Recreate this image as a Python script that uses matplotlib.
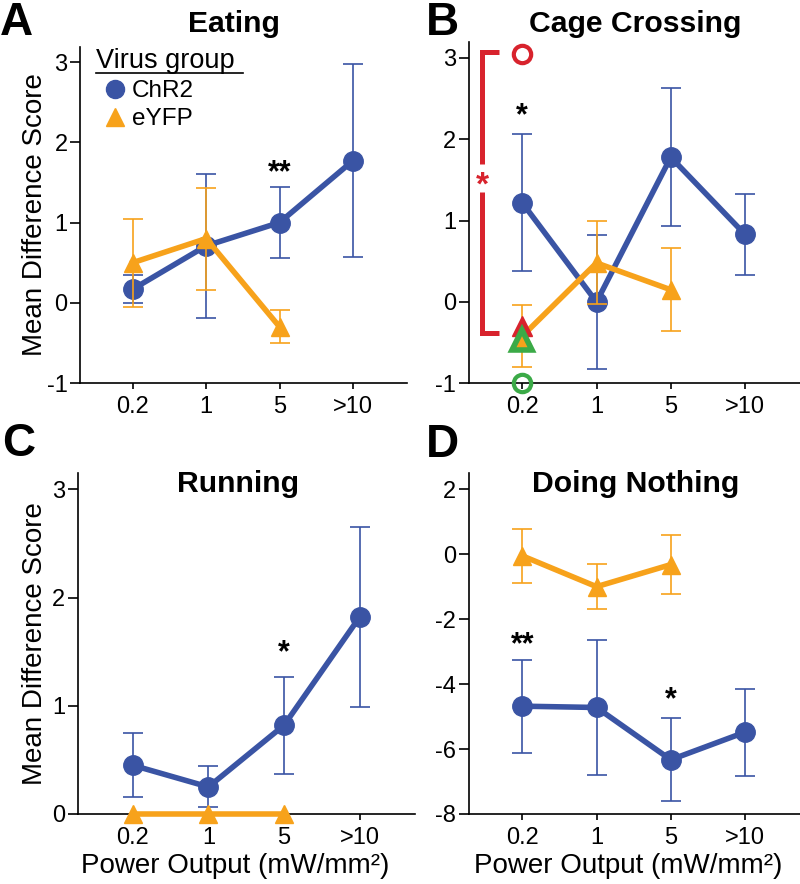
#!/usr/bin/env python3
"""Mean difference scores vs light power output, four behaviours (ChR2 vs eYFP)."""

import matplotlib
matplotlib.use("Agg")
import matplotlib.pyplot as plt
from matplotlib.lines import Line2D

plt.rcParams['font.family'] = ['Liberation Sans', 'DejaVu Sans']
plt.rcParams['axes.unicode_minus'] = False

# ============================================================================
# DATA
# ============================================================================

POWER_LABELS = ["0.2", "1", "5", ">10"]

# Eating
eat_chr2_mean = [0.17, 0.71, 1.0, 1.77]
eat_chr2_sem = [0.17, 0.90, 0.445, 1.2]
eat_eyfp_mean = [0.5, 0.8, -0.3]
eat_eyfp_sem = [0.55, 0.635, 0.205]

# Cage crossing
cage_chr2_mean = [1.22, 0.0, 1.78, 0.83]
cage_chr2_sem = [0.845, 0.825, 0.85, 0.5]
cage_eyfp_mean = [-0.42, 0.48, 0.15]
cage_eyfp_sem = [0.38, 0.51, 0.51]

# Running
run_chr2_mean = [0.45, 0.25, 0.82, 1.82]
run_chr2_sem = [0.295, 0.19, 0.45, 0.83]
run_eyfp_mean = [0.0, 0.0, 0.0]
run_eyfp_sem = [0.0, 0.0, 0.0]

# Doing nothing
noth_chr2_mean = [-4.68, -4.72, -6.33, -5.48]
noth_chr2_sem = [1.43, 2.08, 1.28, 1.34]
noth_eyfp_mean = [-0.05, -1.0, -0.32]
noth_eyfp_sem = [0.83, 0.7, 0.92]

# significance markers: (power index, y, text)
eat_stars = [(2, 1.72, "**")]
cage_stars = [(0, 2.38, "*")]
run_stars = [(2, 1.56, "*")]
noth_stars = [(0, -2.55, "**"), (2, -4.25, "*")]

# individual-animal highlight in cage crossing (red vs green animal at 0.2)
cage_red_circle, cage_green_circle = 3.05, -1.0
cage_red_tri, cage_green_tri = -0.30, -0.47

BLUE = "#3A54A4"
ORANGE = "#F7A21B"
RED = "#D8232D"
GREEN = "#3BAA47"

# ============================================================================


def style_axis(ax, ylim, yticks, xlim=(-0.72, 3.74)):
    for side in ("top", "right"):
        ax.spines[side].set_visible(False)
    for side in ("left", "bottom"):
        ax.spines[side].set_linewidth(1.2)
    ax.set_xlim(*xlim)
    ax.set_ylim(*ylim)
    ax.set_yticks(yticks)
    ax.set_xticks(range(len(POWER_LABELS)))
    ax.set_xticklabels(POWER_LABELS)
    ax.tick_params(axis="y", direction="out", length=7, width=1.2, labelsize=17, pad=2)
    ax.tick_params(axis="x", direction="out", length=4.5, width=1.2, labelsize=17, pad=5)


def draw_groups(ax, chr2_mean, chr2_sem, eyfp_mean, eyfp_sem, stars, eyfp_err=True):
    xe = list(range(len(eyfp_mean)))
    xc = list(range(len(chr2_mean)))
    ax.errorbar(xe, eyfp_mean, yerr=eyfp_sem if eyfp_err else None, color=ORANGE,
                marker="^", ms=13, lw=4, elinewidth=1.2, capsize=7, capthick=1.2,
                clip_on=False, zorder=3)
    ax.errorbar(xc, chr2_mean, yerr=chr2_sem, color=BLUE, marker="o", ms=14,
                lw=4, elinewidth=1.2, capsize=7, capthick=1.2, clip_on=False, zorder=2)
    for i, y, s in stars:
        ax.annotate(s, (i, y), xytext=(0, -6), textcoords="offset points",
                    ha="center", va="center", fontsize=22, fontweight="bold")


fig = plt.figure(figsize=(8, 8.84), dpi=100)
axA = fig.add_axes([0.100, 0.5667, 0.409, 0.3804])
axB = fig.add_axes([0.586, 0.5664, 0.414, 0.3864])
axC = fig.add_axes([0.097, 0.0792, 0.4216, 0.3857])
axD = fig.add_axes([0.586, 0.0792, 0.414, 0.3857])

# A - Eating
draw_groups(axA, eat_chr2_mean, eat_chr2_sem, eat_eyfp_mean, eat_eyfp_sem, eat_stars)
style_axis(axA, (-1, 3.19), [-1, 0, 1, 2, 3])

# legend
axA.text(0.05, 0.937, "Virus group", transform=axA.transAxes, fontsize=19.5,
         ha="left", va="baseline")
axA.add_line(Line2D([0.05, 0.498], [0.922, 0.922], transform=axA.transAxes,
                    color="black", lw=1.2))
handles = [Line2D([], [], color=BLUE, marker="o", ls="none", ms=13, label="ChR2"),
           Line2D([], [], color=ORANGE, marker="^", ls="none", ms=13, label="eYFP")]
axA.legend(handles=handles, loc="upper left", bbox_to_anchor=(0.076, 0.9),
           frameon=False, fontsize=17.5, handlelength=0.8, handletextpad=0.32,
           labelspacing=0.25, borderpad=0, borderaxespad=0)

# B - Cage crossing
draw_groups(axB, cage_chr2_mean, cage_chr2_sem, cage_eyfp_mean, cage_eyfp_sem, cage_stars)
style_axis(axB, (-1, 3.2), [-1, 0, 1, 2, 3])
bx, btick = -0.54, -0.31
axB.plot([btick, bx, bx], [3.07, 3.07, 1.7], color=RED, lw=3.6, clip_on=False,
         solid_capstyle="butt", solid_joinstyle="miter")
axB.plot([bx, bx, btick], [1.35, -0.385, -0.385], color=RED, lw=3.6, clip_on=False,
         solid_capstyle="butt", solid_joinstyle="miter")
axB.annotate("*", (bx, 1.53), xytext=(0, -6), textcoords="offset points", color=RED,
             ha="center", va="center", fontsize=24, fontweight="bold")
axB.plot(0, cage_red_circle, marker="o", ms=12.5, mfc="none", mec=RED, mew=3,
         clip_on=False, zorder=5)
axB.plot(0, cage_green_circle, marker="o", ms=12.5, mfc="none", mec=GREEN, mew=3,
         clip_on=False, zorder=5)
axB.plot(0, cage_red_tri, marker="^", ms=15, color=RED, clip_on=False, zorder=5)
axB.plot(0, cage_green_tri, marker="^", ms=14, mfc=ORANGE, mec=GREEN, mew=4,
         clip_on=False, zorder=6)

# C - Running
draw_groups(axC, run_chr2_mean, run_chr2_sem, run_eyfp_mean, run_eyfp_sem, run_stars,
            eyfp_err=False)
style_axis(axC, (0, 3.15), [0, 1, 2, 3], xlim=(-0.73, 3.73))

# D - Doing nothing
draw_groups(axD, noth_chr2_mean, noth_chr2_sem, noth_eyfp_mean, noth_eyfp_sem, noth_stars)
style_axis(axD, (-8, 2.5), [-8, -6, -4, -2, 0, 2])

# axis labels
for ax, xpos in ((axA, -0.098), (axC, -0.088)):
    ax.set_ylabel("Mean Difference Score", fontsize=20)
    ax.yaxis.set_label_coords(xpos, 0.5)
for ax, xpos in ((axC, 0.468), (axD, 0.482)):
    ax.set_xlabel("Power Output (mW/mm²)", fontsize=20)
    ax.xaxis.set_label_coords(xpos, -0.115)

# titles and panel letters
titles = [("Eating", 234), ("Cage Crossing", 635), ("Running", 238.5), ("Doing Nothing", 636)]
title_base = [31.7, 31.7, 491.7, 491.7]
for (t, x), yb in zip(titles, title_base):
    fig.text(x / 800, 1 - yb / 884, t, ha="center", va="baseline", fontsize=21.7,
             fontweight="bold")

letters = [("A", 0, 35), ("B", 426, 35), ("C", 2, 456), ("D", 426, 457)]
for s, x, yb in letters:
    fig.text(x / 800, 1 - yb / 884, s, ha="left", va="baseline", fontsize=33,
             fontweight="bold")

fig.savefig("out.png", dpi=100)
